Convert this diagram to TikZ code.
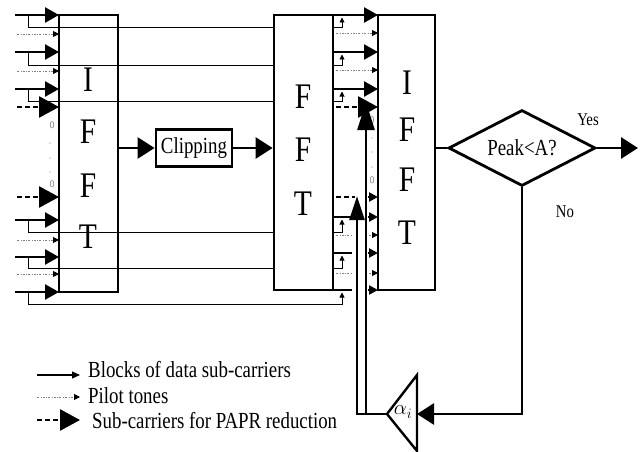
\documentclass[tikz,border=0pt]{standalone}
\usepackage{fontspec}
\setmainfont{Liberation Serif}
\usepackage{graphicx}
\usetikzlibrary{arrows.meta,shapes.geometric}
\newcommand{\sq}[1]{\scalebox{0.82}[1]{#1}}
\begin{document}
\begin{tikzpicture}[x=1pt,y=-1pt,
  boxln/.style={line width=2.8pt},
  dataar/.style={line width=2.6pt,-{Triangle[length=14pt,width=15pt]}},
  datasm/.style={line width=2.6pt,-{Triangle[length=9pt,width=9pt]}},
  pilotln/.style={line width=0.8pt,gray,dash pattern=on 2pt off 1.5pt on 0.6pt off 1.5pt},
  pilotar/.style={pilotln,-{Triangle[length=6pt,width=6pt,color=black]}},
  paprln/.style={line width=2.8pt,dash pattern=on 5pt off 3pt},
  paprar/.style={paprln,-{Triangle[length=20pt,width=21pt]}},
  thinln/.style={line width=0.9pt},
  upar/.style={thinln,-{Triangle[length=5pt,width=5pt]}},
  bigar/.style={line width=2.8pt,-{Triangle[length=17pt,width=21pt]}},
  lbl/.style={font=\fontsize{23}{26}\selectfont},
  lgd/.style={font=\fontsize{23}{26}\selectfont,inner sep=0pt,anchor=base west},
  yn/.style={font=\fontsize{18}{20}\selectfont,inner sep=0pt},
  letter/.style={font=\fontsize{36}{38}\selectfont,inner sep=0pt},
  zero/.style={font=\sffamily\fontsize{10}{10}\selectfont,text=gray,inner sep=0pt},
  dotm/.style={fill=gray}
]
\useasboundingbox (0,0) rectangle (640,452);

% bypass lines of the data blocks
\foreach \y/\b/\t in {15/27/17.5, 52/65/54.5, 89/101/91.5, 220/232/219.5, 257/268/255.5, 292/304/292.5}
  \draw[upar] (28,\y) |- (342,\b) -- (342,\t);

% boxes
\node[draw,boxln,minimum width=59pt,minimum height=277pt,inner sep=0pt] (ifft1) at (88.5,153.5) {};
\node[draw,boxln,fill=white,minimum width=59pt,minimum height=275pt,inner sep=0pt] (fft) at (303.5,152.5) {};
\node[draw,boxln,minimum width=57pt,minimum height=275pt,inner sep=0pt] (ifft2) at (406.5,152.5) {};
\node[draw,boxln,minimum width=76pt,minimum height=37pt,inner sep=0pt,lbl] (clip) at (194,148) {\sq{Clipping}};
\node[draw,boxln,diamond,aspect=2,minimum width=147pt,minimum height=76pt,inner sep=0pt,lbl] (dec) at (522,148) {\sq{Peak<A?}};

% letters
\node[letter] at (88,80) {\sq{I}};
\node[letter] at (88,132) {\sq{F}};
\node[letter] at (88,186) {\sq{F}};
\node[letter] at (88,237) {\sq{T}};
\node[letter] at (303,97) {\sq{F}};
\node[letter] at (303,150) {\sq{F}};
\node[letter] at (303,204) {\sq{T}};
\node[letter] at (407,83) {\sq{I}};
\node[letter] at (407,130) {\sq{F}};
\node[letter] at (407,180) {\sq{F}};
\node[letter] at (407,233) {\sq{T}};

% inputs of the first IFFT
\foreach \y in {15,52,89,220,257,292} \draw[dataar] (15,\y) -- (59,\y);
\foreach \y in {34,71,240,274} \draw[pilotar] (17,\y) -- (59,\y);
\foreach \y in {107,197} \draw[paprar] (17,\y) -- (59,\y);
\node[zero] at (52,125) {0};
\node[zero] at (52,184) {0};
\foreach \y in {143,158,172} \fill[dotm] (50,\y) circle (0.7);

% inputs of the second IFFT
\foreach \y in {15,52,89} \draw[dataar] (333,\y) -- (378,\y);
\foreach \y in {33,70} \draw[pilotar] (336,\y) -- (378,\y);
\draw[paprar] (336,107) -- (378,107);
\foreach \y in {217,253,290} {\draw[line width=2.6pt] (333,\y) -- (352,\y); \draw[datasm] (368,\y) -- (378,\y);}
\foreach \y in {235,273} {\draw[pilotln] (336,\y) -- (352,\y); \draw[pilotar] (369,\y) -- (378,\y);}
\draw[paprln] (336,197) -- (355,197);
\draw[datasm] (368,197) -- (378,197);
\node[zero] at (372,120) {0};
\node[zero] at (372,180) {0};
\foreach \y in {138,152,167} \fill[dotm] (372,\y) circle (0.7);

% main flow
\draw[bigar] (ifft1.east |- clip.west) -- (clip.west);
\draw[bigar] (clip.east) -- (fft.west |- clip.east);
\draw[boxln] (ifft2.east |- dec.west) -- (dec.west);
\coordinate (out) at (638,148);
\draw[bigar] (dec.east) -- (out);
\node[yn] at (588,120) {\sq{Yes}};
\node[yn] at (565,212) {\sq{No}};

% gain triangle and feedback
\coordinate (tA) at (417,375);
\coordinate (tB) at (387,414);
\coordinate (tC) at (417,451);
\coordinate (tR) at (417,414);
\draw[line width=2.4pt,line join=miter] (tA) -- (tB) -- (tC) -- cycle;
\node[font=\fontsize{20}{20}\selectfont,inner sep=0pt] at (403,412) {$\alpha_i$};
\draw[bigar] (dec.south) |- (tR);
\coordinate (fbA) at (357,196);
\coordinate (fbB) at (366,102);
\draw[line width=2.8pt,-{Triangle[length=24pt,width=15pt]}] (tB) -- (357,414) -- (fbA);
\draw[line width=2.8pt,-{Triangle[length=28pt,width=17pt]}] (366,414) -- (fbB);

% legend
\draw[line width=1.2pt,-{Triangle[length=8pt,width=7pt]}] (37,375) -- (80,375);
\draw[pilotar] (37,397) -- (80,397);
\draw[paprar] (37,420) -- (80,420);
\node[lgd] at (88,377) {\sq{Blocks of data sub-carriers}};
\node[lgd] at (88,403) {\sq{Pilot tones}};
\node[lgd] at (92,428) {\sq{Sub-carriers for PAPR reduction}};
\end{tikzpicture}
\end{document}
